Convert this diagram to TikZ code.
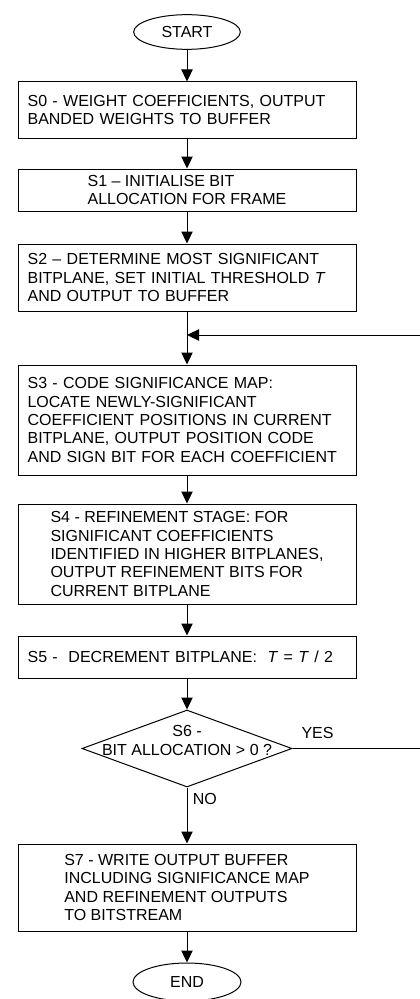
\documentclass[tikz,border=0pt]{standalone}
\usepackage{fontspec}
\setmainfont{Liberation Sans}
\usetikzlibrary{shapes.geometric,arrows.meta}

\begin{document}
\begin{tikzpicture}[x=0.75pt, y=-0.75pt, line width=0.75pt,
  font=\fontsize{12}{13.8}\selectfont,
  terminal/.style={ellipse, draw, minimum width=80pt, minimum height=26pt, inner sep=0pt},
  stepbox/.style={rectangle, draw, text width=239.1pt, inner xsep=7.2pt, inner ysep=0pt, align=left},
  stepboxc/.style={rectangle, draw, minimum width=253.5pt, inner xsep=7.2pt, inner ysep=0pt, align=left},
  decision/.style={diamond, draw, minimum width=157.5pt, minimum height=57.75pt, inner sep=0pt},
  flow/.style={-{Triangle[width=8.5pt,length=9pt]}},
  lbl/.style={inner sep=2pt}]

  \useasboundingbox (0,0) rectangle (420,999);
  \clip (0,0) rectangle (420,999);

  % Nodes
  \node[terminal] (start) at (187,32) {START};
  \node[stepbox, minimum height=42pt] (s0) at (187,110) {S0 - WEIGHT COEFFICIENTS, OUTPUT\\BANDED WEIGHTS TO BUFFER};
  \node[stepboxc, minimum height=31.5pt] (s1) at (187,190) {S1 – INITIALISE BIT\\ALLOCATION FOR FRAME};
  \node[stepbox, minimum height=50.25pt] (s2) at (187,277.5) {S2 – DETERMINE MOST SIGNIFICANT\\BITPLANE, SET INITIAL THRESHOLD \textit{T}\\AND OUTPUT TO BUFFER};
  \coordinate (join) at (187,335);
  \node[stepbox, minimum height=82.5pt] (s3) at (187,420) {S3 - CODE SIGNIFICANCE MAP:\\LOCATE NEWLY-SIGNIFICANT\\COEFFICIENT POSITIONS IN CURRENT\\BITPLANE, OUTPUT POSITION CODE\\AND SIGN BIT FOR EACH COEFFICIENT};
  \node[stepboxc, minimum height=75pt] (s4) at (187,554) {S4 - REFINEMENT STAGE: FOR\\SIGNIFICANT COEFFICIENTS\\IDENTIFIED IN HIGHER BITPLANES,\\OUTPUT REFINEMENT BITS FOR\\CURRENT BITPLANE};
  \node[stepbox, minimum height=31.5pt] (s5) at (187,657) {S5 -\ \ DECREMENT BITPLANE:\ \ \textit{T} = \textit{T} / 2};
  \node[decision] (s6) at (187,748.5) {};
  \node[align=center, inner sep=0pt] (s6txt) at ([yshift=6pt]s6.center) {S6 -\\BIT ALLOCATION > 0 ?};
  \node[stepboxc, minimum height=65.25pt] (s7) at (187,887.5) {S7 - WRITE OUTPUT BUFFER\\INCLUDING SIGNIFICANCE MAP\\AND REFINEMENT OUTPUTS\\TO BITSTREAM};
  \node[terminal, minimum width=81pt, minimum height=28.5pt] (end) at (187,982) {END};
  \coordinate (loopback) at (440,748.5);

  % Arrows
  \draw[flow] (start) -- (s0);
  \draw[flow] (s0) -- (s1);
  \draw[flow] (s1) -- (s2);
  \draw[flow] (s2) -- (s3);
  \draw[flow] (s3) -- (s4);
  \draw[flow] (s4) -- (s5);
  \draw[flow] (s5) -- (s6);
  \draw[flow] (s6) -- node[lbl, right=2pt, pos=0.21] {NO} (s7);
  \draw[flow] (s7) -- (end);
  \draw[flow] (s6.east) -- node[lbl, above=5pt, pos=0.17] {YES} (loopback) |- (join);

\end{tikzpicture}
\end{document}
